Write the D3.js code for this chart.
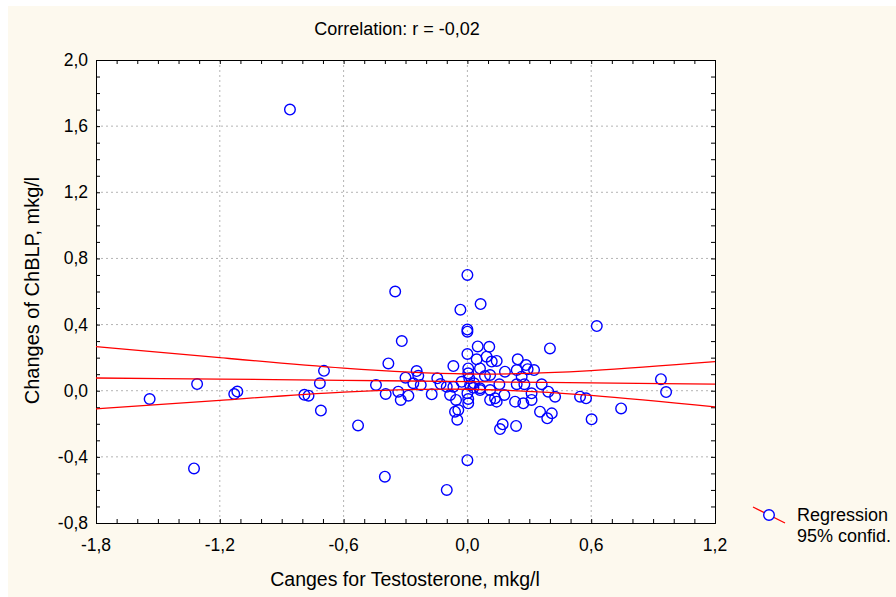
<!DOCTYPE html>
<html><head><meta charset="utf-8">
<script src="https://d3js.org/d3.v7.min.js"></script>
<style>body{margin:0;background:#fff}svg{display:block}</style>
</head><body>
<script>
const titleText = "Correlation: r = -0,02";
const xLabel = "Canges for Testosterone, mkg/l";
const yLabel = "Changes of ChBLP, mkg/l";
const xTicks = [-1.8, -1.2, -0.6, 0.0, 0.6, 1.2];
const yTicks = [-0.8, -0.4, 0.0, 0.4, 0.8, 1.2, 1.6, 2.0];
const legendLabels = ["Regression", "95% confid."];

const xVals = [-0.86,-1.54,-1.31,-1.325,-1.13,-1.115,-0.79,-0.77,-0.715,-0.695,-0.71,-0.53,-0.40,-0.35,-0.318,-0.383,-0.443,-0.396,-0.335,-0.323,-0.30,-0.286,-0.262,-0.246,-0.238,-0.226,-0.173,-0.146,-0.13,-0.10,-0.10,-0.084,-0.068,-0.068,-0.055,-0.044,-0.06,-0.049,-0.034,-0.028,0.0,0.0,0.0,0.0,0.004,0.004,0.009,0.013,0.0,0.004,0.004,0.0,0.029,0.032,0.05,0.045,0.064,0.061,0.061,0.061,0.085,0.093,0.106,0.11,0.11,0.11,0.118,0.142,0.134,0.142,0.155,0.182,0.179,0.171,0.158,0.236,0.244,0.239,0.239,0.231,0.263,0.276,0.271,0.284,0.292,0.323,0.311,0.311,0.36,0.352,0.40,0.392,0.409,0.387,0.425,0.546,0.575,0.602,0.627,0.745,0.938,0.963];
const yVals = [1.70,-0.05,0.04,-0.47,-0.02,-0.005,-0.025,-0.03,0.045,0.12,-0.12,-0.21,-0.52,0.60,0.30,0.165,0.035,-0.02,-0.006,-0.056,0.079,-0.03,0.045,0.119,0.09,0.034,-0.022,0.075,0.04,0.024,-0.60,-0.026,0.149,0.024,-0.056,-0.117,-0.127,-0.175,0.49,0.054,0.70,0.37,0.357,0.222,0.135,0.105,0.075,0.034,-0.016,-0.05,-0.076,-0.42,0.018,0.045,0.268,0.19,0.524,0.135,0.015,0.004,0.089,0.206,0.266,0.095,0.004,-0.056,0.176,0.18,-0.046,-0.066,0.039,0.115,-0.026,-0.203,-0.232,-0.213,0.19,0.125,0.039,-0.066,0.085,0.039,-0.076,0.155,0.13,0.125,-0.016,-0.056,0.039,-0.127,0.256,-0.006,-0.137,-0.167,-0.036,-0.036,-0.046,-0.173,0.391,-0.107,0.07,-0.008];

// regression and 95% confidence band at the x ticks
const regX = [-1.8, -1.2, -0.6, 0.0, 0.6, 1.2];
const regFit = [0.077, 0.070, 0.063, 0.055, 0.047, 0.040];
const regUpper = [0.267, 0.200, 0.136, 0.101, 0.122, 0.176];
const regLower = [-0.110, -0.058, -0.008, 0.009, -0.028, -0.098];

const W = 896, H = 597;
const svg = d3.select("body").append("svg").attr("width", W).attr("height", H);
svg.append("rect").attr("x", 8).attr("y", 6).attr("width", W - 8).attr("height", H - 6).attr("fill", "#fdf9ee");

const m = {l: 96, r: 715, t: 60, b: 523};
const x = d3.scaleLinear().domain([-1.8, 1.2]).range([m.l, m.r]);
const y = d3.scaleLinear().domain([-0.8, 2.0]).range([m.b, m.t]);
const fmt = d => d3.format(".1f")(d).replace("−", "-").replace(".", ",");
const font = "Liberation Sans, Arial, Helvetica, sans-serif";
const fs = 17.5;

svg.append("rect").attr("x", m.l).attr("y", m.t).attr("width", m.r - m.l).attr("height", m.b - m.t).attr("fill", "#fff");

// grid
const g = svg.append("g");
g.selectAll("line.gx").data(xTicks.slice(1, -1)).join("line")
  .attr("x1", d => x(d)).attr("x2", d => x(d)).attr("y1", m.t).attr("y2", m.b)
  .attr("stroke", "#b4b4b4").attr("stroke-dasharray", "2,3");
g.selectAll("line.gy").data(yTicks.slice(1, -1)).join("line")
  .attr("y1", d => y(d)).attr("y2", d => y(d)).attr("x1", m.l).attr("x2", m.r)
  .attr("stroke", "#b4b4b4").attr("stroke-dasharray", "2,3");

// axes with inward ticks
const minorX = d3.range(-18, 13).map(i => i / 10);
const minorY = d3.range(-8, 21).map(i => i / 10);
const axB = svg.append("g").attr("transform", `translate(0,${m.b})`)
  .call(d3.axisTop(x).tickValues(minorX).tickSize(4).tickFormat(""));
const axT = svg.append("g").attr("transform", `translate(0,${m.t})`)
  .call(d3.axisBottom(x).tickValues(minorX).tickSize(4).tickFormat(""));
const axL = svg.append("g").attr("transform", `translate(${m.l},0)`)
  .call(d3.axisRight(y).tickValues(minorY).tickSize(4).tickFormat(""));
const axR = svg.append("g").attr("transform", `translate(${m.r},0)`)
  .call(d3.axisLeft(y).tickValues(minorY).tickSize(4).tickFormat(""));
[axB, axT, axL, axR].forEach(a => { a.selectAll("path").attr("stroke", "#000"); a.selectAll("line").attr("stroke", "#000"); });

// tick labels
svg.append("g").selectAll("text").data(xTicks).join("text")
  .attr("x", d => x(d)).attr("y", m.b + 28).attr("text-anchor", "middle")
  .attr("font-family", font).attr("font-size", fs).attr("fill", "#000").text(fmt);
svg.append("g").selectAll("text").data(yTicks).join("text")
  .attr("x", m.l - 8).attr("y", d => y(d) + 6).attr("text-anchor", "end")
  .attr("font-family", font).attr("font-size", fs).attr("fill", "#000").text(fmt);

// labels
svg.append("text").attr("x", 397).attr("y", 35).attr("text-anchor", "middle")
  .attr("font-family", font).attr("font-size", 18).text(titleText);
svg.append("text").attr("x", 405).attr("y", 586).attr("text-anchor", "middle")
  .attr("font-family", font).attr("font-size", 19.5).text(xLabel);
svg.append("text").attr("transform", `translate(39,${(m.t + m.b) / 2 - 1}) rotate(-90)`).attr("text-anchor", "middle")
  .attr("font-family", font).attr("font-size", 20).text(yLabel);

// points
const pts = xVals.map((v, i) => [v, yVals[i]]);
svg.append("clipPath").attr("id", "pc").append("rect")
  .attr("x", m.l).attr("y", m.t).attr("width", m.r - m.l).attr("height", m.b - m.t);
svg.append("g").selectAll("circle").data(pts).join("circle")
  .attr("cx", d => x(d[0])).attr("cy", d => y(d[1])).attr("r", 5.3)
  .attr("fill", "none").attr("stroke", "#0000ff").attr("stroke-width", 1.4);

// regression lines
const line = d3.line().x(d => x(d[0])).y(d => y(d[1])).curve(d3.curveNatural);
[regFit, regUpper, regLower].forEach(arr => {
  svg.append("path").datum(regX.map((v, i) => [v, arr[i]])).attr("d", line)
    .attr("fill", "none").attr("stroke", "#ff0000").attr("stroke-width", 1.3)
    .attr("clip-path", "url(#pc)");
});

// legend
const lg = svg.append("g");
lg.append("line").attr("x1", 753).attr("y1", 507).attr("x2", 785).attr("y2", 523)
  .attr("stroke", "#ff0000").attr("stroke-width", 1.3);
lg.append("circle").attr("cx", 769).attr("cy", 515).attr("r", 5.3)
  .attr("fill", "#fff").attr("stroke", "#0000ff").attr("stroke-width", 1.4);
lg.selectAll("text").data(legendLabels).join("text")
  .attr("x", 797).attr("y", (d, i) => 521 + i * 21)
  .attr("font-family", font).attr("font-size", 18).attr("fill", "#000").text(d => d);
</script>
</body></html>
